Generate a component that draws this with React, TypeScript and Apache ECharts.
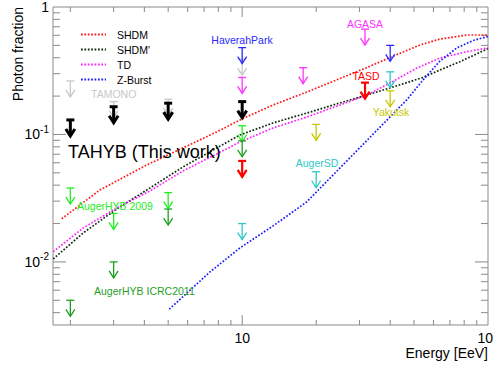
import React, { useEffect, useRef } from "react";
import * as echarts from "echarts";

const FONT = '"Liberation Sans", Arial, Helvetica, sans-serif';
const AXIS_COLOR = "#8a8a8a";

// Model curves: [Energy (EeV), photon fraction]
const shdmCurve = [
  [1.844, 0.0218], [2.639, 0.0367], [4.088, 0.0576], [7.876, 0.1046], [9.98, 0.1323],
  [13.35, 0.1703], [18.35, 0.2154], [25, 0.2749], [32.2, 0.3353], [39.93, 0.4018],
  [52.9, 0.5035], [63.8, 0.561], [82.1, 0.603], [100, 0.603],
];
const shdmPrimeCurve = [
  [1.704, 0.01056], [2.257, 0.01689], [3.087, 0.02604], [4.217, 0.03805], [5.743, 0.0556],
  [7.876, 0.07834], [9.795, 0.0991], [13.35, 0.1231], [18.35, 0.1474], [25, 0.1767],
  [32.2, 0.2041], [39.93, 0.2316], [54.4, 0.28], [63.8, 0.3206], [76.9, 0.3724], [100, 0.472],
];
const tdCurve = [
  [1.704, 0.01204], [2.257, 0.01848], [3.087, 0.02652], [4.217, 0.03604], [5.743, 0.05172],
  [7.876, 0.07035], [9.795, 0.0873], [13.35, 0.1125], [18.35, 0.1372], [25, 0.1703],
  [32.2, 0.2041], [39.93, 0.2534], [51.4, 0.3323], [63.8, 0.398], [82, 0.446], [100, 0.478],
];
const zBurstCurve = [
  [5.051, 0.004256], [7.396, 0.008347], [9.795, 0.01288], [13.35, 0.01916], [18.3, 0.02955],
  [25, 0.05462], [34.15, 0.1009], [46.7, 0.1865], [54.4, 0.2676], [63.8, 0.3771],
  [74.6, 0.477], [86.9, 0.5461], [100, 0.587],
];

// Upper limits: [Energy threshold (EeV), photon fraction limit]
const tamonoLimits = [[2, 0.263], [3, 0.181], [5, 0.189], [10, 0.39]];
const haverahLimits = [[10, 0.48], [40, 0.5]];
const agasaLimits = [[10, 0.28], [17.7, 0.334], [31.6, 0.67]];
const yakutskLimits = [[20, 0.12], [40, 0.22]];
const augerSdLimits = [[10, 0.02], [20, 0.051], [40, 0.31]];
const augerHyb2009Limits = [[2, 0.038], [3, 0.024], [5, 0.035], [10, 0.117]];
const augerHyb2011Limits = [[2, 0.005], [3, 0.01], [5, 0.026], [10, 0.089]];
const tasdLimits = [[10, 0.062], [31.6, 0.255]];
const tahybLimits = [[2, 0.13], [3, 0.165], [5, 0.176], [10, 0.181]];

// Axis tick values
const xMinorTicks = [2, 3, 4, 5, 6, 7, 8, 9, 20, 30, 40, 50, 60, 70, 80, 90];
const xMajorTicks = [10];
const yMinorTicks = [
  0.004, 0.005, 0.006, 0.007, 0.008, 0.009,
  0.02, 0.03, 0.04, 0.05, 0.06, 0.07, 0.08, 0.09,
  0.2, 0.3, 0.4, 0.5, 0.6, 0.7, 0.8, 0.9,
];
const yMajorTicks = [0.01, 0.1];

const curveSeries = (name: string, data: number[][], color: string) => ({
  name,
  type: "line",
  data,
  showSymbol: false,
  symbol: "none",
  smooth: false,
  lineStyle: { color, width: 1.7, type: [1.7, 1.7] },
  itemStyle: { color },
  z: 3,
});

const limitSeries = (name: string, data: number[][], color: string, width: number, bar: number, head: number) => ({
  name,
  type: "custom",
  data,
  silent: true,
  z: 4,
  renderItem: (params: any, api: any) => {
    const p = api.coord([api.value(0), api.value(1)]);
    const x = p[0];
    const y = p[1];
    const len = 16;
    const headH = 7;
    const style = { stroke: color, lineWidth: width, fill: null };
    return {
      type: "group",
      children: [
        { type: "line", shape: { x1: x - bar, y1: y, x2: x + bar, y2: y }, style },
        { type: "line", shape: { x1: x, y1: y, x2: x, y2: y + len }, style },
        {
          type: "polyline",
          shape: { points: [[x - head, y + len - headH], [x, y + len], [x + head, y + len - headH]] },
          style,
        },
      ],
    };
  },
});

const xTickSeries = (ticks: number[], len: number) => ({
  type: "custom",
  silent: true,
  data: ticks.map((v) => [v, 0.1]),
  z: 2,
  renderItem: (params: any, api: any) => {
    const cs = params.coordSys;
    const x = api.coord([api.value(0), 0.1])[0];
    const style = { stroke: AXIS_COLOR, lineWidth: 1 };
    const bottom = cs.y + cs.height;
    return {
      type: "group",
      children: [
        { type: "line", shape: { x1: x, y1: bottom, x2: x, y2: bottom - len }, style },
        { type: "line", shape: { x1: x, y1: cs.y, x2: x, y2: cs.y + len }, style },
      ],
    };
  },
});

const yTickSeries = (ticks: number[], len: number) => ({
  type: "custom",
  silent: true,
  data: ticks.map((v) => [10, v]),
  z: 2,
  renderItem: (params: any, api: any) => {
    const cs = params.coordSys;
    const y = api.coord([10, api.value(1)])[1];
    const style = { stroke: AXIS_COLOR, lineWidth: 1 };
    const right = cs.x + cs.width;
    return {
      type: "group",
      children: [
        { type: "line", shape: { x1: cs.x, y1: y, x2: cs.x + len, y2: y }, style },
        { type: "line", shape: { x1: right, y1: y, x2: right - len, y2: y }, style },
      ],
    };
  },
});

const isPow10 = (v: number) => {
  const l = Math.log10(v);
  return Math.abs(l - Math.round(l)) < 1e-6;
};

const yLabel = (v: number) => {
  if (!isPow10(v)) return "";
  const e = Math.round(Math.log10(v));
  if (e === 0) return "1";
  if (e === 1) return "10";
  return "{b|10}{s|" + e + "}";
};

// the 10^2 label sits at the right edge; it is drawn as a graphic text so it stays inside the page
const xLabel = (v: number) => {
  if (!isPow10(v)) return "";
  const e = Math.round(Math.log10(v));
  return e === 1 ? "10" : "";
};

const richY = {
  b: { fontSize: 14, fontFamily: FONT, lineHeight: 20, color: "#000" },
  s: { fontSize: 10, fontFamily: FONT, lineHeight: 9, verticalAlign: "top", color: "#000" },
};

const label = (text: string, x: number, y: number, color: string, size: number, align: string) => ({
  type: "text",
  x,
  y,
  silent: true,
  z: 10,
  style: {
    text,
    fill: color,
    fontSize: size,
    fontFamily: FONT,
    align,
    verticalAlign: "middle",
    textAlign: align,
    textVerticalAlign: "middle",
  },
});

export default function App() {
  const ref = useRef<HTMLDivElement>(null);
  useEffect(() => {
    if (!ref.current) return;
    const chart = echarts.init(ref.current, undefined, { renderer: "svg" });
    chart.setOption({
      animation: false,
      backgroundColor: "#fff",
      grid: {
        left: 53,
        right: 6,
        top: 7,
        bottom: 42,
        show: true,
        borderColor: AXIS_COLOR,
        borderWidth: 1,
        backgroundColor: "transparent",
        containLabel: false,
        outerBoundsMode: "none",
      },
      legend: {
        data: ["SHDM", "SHDM'", "TD", "Z-Burst"],
        orient: "vertical",
        left: 80,
        top: 27,
        itemWidth: 25,
        itemHeight: 8,
        itemGap: 0,
        padding: 0,
        itemStyle: { opacity: 0 },
        textStyle: {
          fontSize: 10.5,
          fontFamily: FONT,
          color: "#000",
          lineHeight: 15,
          padding: [0, 0, 0, 6],
        },
      },
      xAxis: {
        type: "log",
        logBase: 10,
        min: 1.7,
        max: 100,
        axisLine: { show: false },
        axisTick: { show: false },
        splitLine: { show: false },
        axisLabel: {
          margin: 6,
          fontSize: 14,
          fontFamily: FONT,
          color: "#000",
          formatter: xLabel,
        },
      },
      yAxis: {
        type: "log",
        logBase: 10,
        min: 0.0032,
        max: 1,
        axisLine: { show: false },
        axisTick: { show: false },
        splitLine: { show: false },
        axisLabel: {
          margin: 4,
          fontSize: 14,
          fontFamily: FONT,
          color: "#000",
          formatter: yLabel,
          rich: richY,
        },
      },
      series: [
        xTickSeries(xMinorTicks, 5),
        xTickSeries(xMajorTicks, 10),
        yTickSeries(yMinorTicks, 7),
        yTickSeries(yMajorTicks, 13),
        curveSeries("SHDM", shdmCurve, "#ff1a1a"),
        curveSeries("SHDM'", shdmPrimeCurve, "#0d2a0d"),
        curveSeries("TD", tdCurve, "#ff22ff"),
        curveSeries("Z-Burst", zBurstCurve, "#1a1aff"),
        limitSeries("TAMONO", tamonoLimits, "#c8c8c8", 1.3, 4, 4.5),
        limitSeries("HaverahPark", haverahLimits, "#2a2aff", 1.3, 4, 4.5),
        limitSeries("AGASA", agasaLimits, "#ff33ff", 1.3, 4, 4.5),
        limitSeries("Yakutsk", yakutskLimits, "#c8c800", 1.3, 4, 4.5),
        limitSeries("AugerSD", augerSdLimits, "#2ec8c8", 1.3, 4, 4.5),
        limitSeries("AugerHYB 2009", augerHyb2009Limits, "#22ee22", 1.3, 4, 4.5),
        limitSeries("AugerHYB ICRC2011", augerHyb2011Limits, "#1f9f1f", 1.3, 4, 4.5),
        limitSeries("TASD", tasdLimits, "#ff0000", 2.2, 4, 4.5),
        limitSeries("TAHYB", tahybLimits, "#000000", 3, 4, 4.5),
      ],
      graphic: [
        {
          type: "text",
          x: 18,
          y: 7,
          rotation: Math.PI / 2,
          silent: true,
          style: {
            text: "Photon fraction",
            fill: "#000",
            fontSize: 14,
            fontFamily: FONT,
            align: "right",
            verticalAlign: "middle",
            textAlign: "right",
            textVerticalAlign: "middle",
          },
        },
        label("10", 493, 338, "#000", 14, "right"),
        label("Energy [EeV]", 488, 353, "#000", 14, "right"),
        label("TAMONO", 91, 94, "#c8c8c8", 10.5, "left"),
        label("HaverahPark", 242, 40, "#2a2aff", 10.5, "center"),
        label("AGASA", 365, 24, "#ff33ff", 10.5, "center"),
        label("TASD", 366, 76, "#ff0000", 10.5, "center"),
        label("Yakutsk", 391, 112, "#c8c800", 10.5, "center"),
        label("AugerSD", 317, 163, "#2ec8c8", 10.5, "center"),
        label("AugerHYB 2009", 77, 206, "#22ee22", 10.5, "left"),
        label("AugerHYB ICRC2011", 94, 291, "#1f9f1f", 10.5, "left"),
        label("TAHYB (This work)", 68, 152, "#000", 18, "left"),
      ],
    });
    return () => chart.dispose();
  }, []);
  return (
    <div
      ref={ref}
      style={{ position: "fixed", left: 0, top: 0, width: 494, height: 367, background: "#fff" }}
    />
  );
}
